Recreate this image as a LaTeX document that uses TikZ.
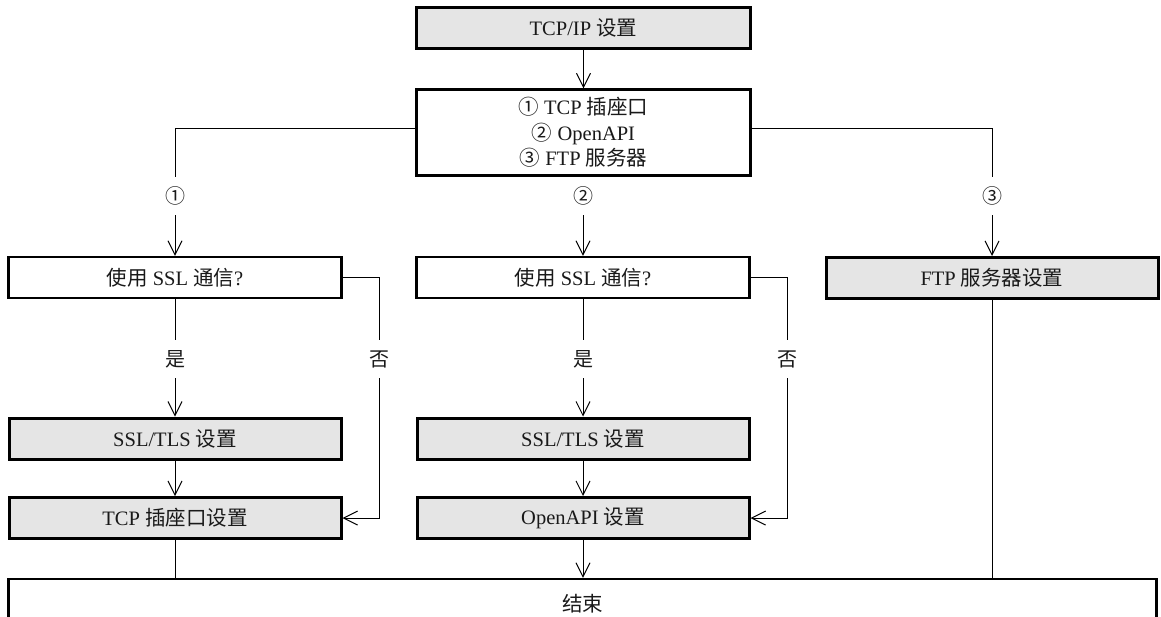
\documentclass[tikz,border=0pt]{standalone}
\usepackage{fontspec}
\setmainfont{Liberation Serif}
\newfontfamily\cjk{Noto Sans CJK SC}
\usetikzlibrary{arrows.meta}
\tikzset{
  base/.style={draw, line width=2.3pt, minimum height=41pt, inner sep=2pt,
    font=\fontsize{20.5}{25.5}\selectfont, text=black!90},
  plainbox/.style={base, fill=white},
  graybox/.style={base, line width=3pt, fill=black!10},
  conn/.style={line width=1pt},
  arr/.style={conn, -{Straight Barb[length=14pt,width=14pt]}},
  lbl/.style={fill=white, inner sep=3pt, font=\fontsize{20}{24}\selectfont, text=black!90}
}
\begin{document}
\begin{tikzpicture}[x=1pt,y=-1pt]
\useasboundingbox (0,0) rectangle (1161,616);
\clip (0,0) rectangle (1161,616);
% nodes
\node[graybox, minimum width=334pt] (top) at (583.5,28) {TCP/IP {\cjk 设置}};
\node[plainbox, minimum width=334pt, minimum height=86pt, align=center] (menu) at (583.5,132.5)
  {{\cjk ①} TCP {\cjk 插座口}\\ {\cjk ②} OpenAPI\\ {\cjk ③} FTP {\cjk 服务器}};
\node[plainbox, minimum width=333pt] (dec1) at (175,277.5) {{\cjk 使用} SSL {\cjk 通信}?};
\node[plainbox, minimum width=333pt] (dec2) at (583,277.5) {{\cjk 使用} SSL {\cjk 通信}?};
\node[graybox, minimum width=332pt] (ftp) at (992,278) {FTP {\cjk 服务器设置}};
\node[graybox, minimum width=332pt] (ssl1) at (175,438.5) {SSL/TLS {\cjk 设置}};
\node[graybox, minimum width=332pt] (tcp) at (175,518) {TCP {\cjk 插座口设置}};
\node[graybox, minimum width=332pt] (ssl2) at (583,438.5) {SSL/TLS {\cjk 设置}};
\node[graybox, minimum width=332pt] (api) at (583,518) {OpenAPI {\cjk 设置}};
\node[plainbox, minimum width=1148pt, minimum height=50pt] (end) at (582.5,604) {{\cjk 结束}};
\coordinate (y1) at (0,128);
% connectors
\draw[arr] (top) -- (menu);
\draw[arr] (menu.west |- y1) -| (dec1.north);
\draw[arr] (menu.south -| dec2.north) -- (dec2.north);
\draw[arr] (menu.east |- y1) -| (ftp.north);
\draw[arr] (dec1) -- (ssl1);
\draw[arr] (ssl1) -- (tcp);
\draw[arr] (dec1.east) -- ++(37,0) |- (tcp.east);
\draw[arr] (dec2) -- (ssl2);
\draw[arr] (ssl2) -- (api);
\draw[arr] (dec2.east) -- ++(37,0) |- (api.east);
\draw[conn] (tcp.south) -- (tcp.south |- end.north);
\draw[arr] (api.south) -- (api.south |- end.north);
\draw[conn] (ftp.south) -- (ftp.south |- end.north);
% labels
\node[lbl, inner ysep=10pt] (l1) at (175,196) {\cjk ①};
\node[lbl, inner ysep=10pt] (l2) at (583,196) {\cjk ②};
\node[lbl, inner ysep=10pt] (l3) at (992,196) {\cjk ③};
\node[lbl, inner ysep=10pt] (y1l) at (175,359) {\cjk 是};
\node[lbl, inner ysep=10pt] (n1l) at (379,359) {\cjk 否};
\node[lbl, inner ysep=10pt] (y2l) at (583,359) {\cjk 是};
\node[lbl, inner ysep=10pt] (n2l) at (787,359) {\cjk 否};
\end{tikzpicture}
\end{document}
